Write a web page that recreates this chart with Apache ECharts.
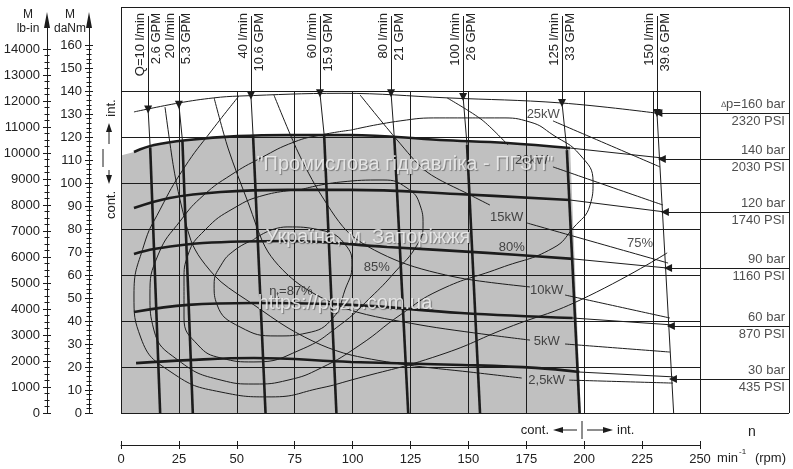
<!DOCTYPE html>
<html>
<head>
<meta charset="utf-8">
<script src="https://cdn.jsdelivr.net/npm/echarts@6/dist/echarts.min.js"></script>
<style>
html, body { margin: 0; padding: 0; background: #fff; }
#chart { width: 793px; height: 469px; }
</style>
</head>
<body>
<div id="chart"></div>
<script>
// ---- axes ----
var rpmTicks = [0, 25, 50, 75, 100, 125, 150, 175, 200, 225, 250];
var daNmTicks = [0, 10, 20, 30, 40, 50, 60, 70, 80, 90, 100, 110, 120, 130, 140, 150, 160];
var lbinTicks = [0, 1000, 2000, 3000, 4000, 5000, 6000, 7000, 8000, 9000, 10000, 11000, 12000, 13000, 14000];
var gridM = [20, 40, 60, 80, 100, 120, 140];          // daNm
var gridN = [25, 50, 75, 100, 125, 150, 175, 200, 230, 250]; // rpm

// ---- constant pressure curves [rpm, daNm] ----
var p160 = [[5.6,130.9],[25,134.8],[40,137],[51,137.8],[95,139],[141,137],[190,134.8],[231,130.4]];
var p140 = [[5.6,113.5],[14.3,116.5],[29,118.7],[50.5,120.4],[72,120.9],[99,120.9],[137.7,118.7],[166.7,117.4],[193.9,115.2]];
var p140End = [[193.9,115.2],[233.6,110.9]];
var p120 = [[5.6,89.1],[21,93.5],[43,96.1],[72,97],[99,97],[145,95.2],[193.9,92.6]];
var p120End = [[193.9,92.6],[234.9,87.4]];
var p90 = [[5.6,69.1],[14.3,71.3],[35.4,73.9],[71.7,74.8],[114.9,72.2],[158,69.6],[195.2,67]];
var p90End = [[195.2,67],[236.2,63]];
var p60 = [[5.6,43.9],[29,47],[57.4,47.8],[99.3,47],[146.8,43.5],[195,41.3]];
var p60End = [[195,41.3],[238,38.3]];
var p30 = [[6.5,21.7],[29,23],[57.4,23.9],[99.3,22.2],[147.4,20.9],[179,19.6],[198,17.8]];
var p30End = [[198,17.8],[238.5,15.7]];

// continuous-duty (grey) region
var contArea = [[0,112],[5.6,113.5],[14.3,116.5],[29,118.7],[50.5,120.4],[72,120.9],[99,120.9],[137.7,118.7],[166.7,117.4],[193.9,115.2],[198.5,0]];

// ---- constant flow lines: [top, start of thick part, bottom] ----
var flowNames = ['Q=10 l/min', '20 l/min', '40 l/min', '60 l/min', '80 l/min', '100 l/min', '125 l/min', '150 l/min'];
var flowGpm = ['2.6 GPM', '5.3 GPM', '10.6 GPM', '15.9 GPM', '21 GPM', '26 GPM', '33 GPM', '39.6 GPM'];
var flowTop = [[11.7,132],[25,134],[56.1,138],[85.9,139],[116.6,139],[147.7,137.4],[190.4,134.8],[231.4,130.4]];
var flowMid = [[12.6,115.5],[26.5,118.7],[57,121],[87.7,121],[118,119.6],[149.4,116.5],[192.5,114.3],null];
var flowBottom = [[16.9,0],[31,0],[62.4,0],[93,0],[124,0],[155,0],[198,0],[238.6,0]];

// ---- power lines (kW) ----
var kw25 = [[186.5,127],[232.7,107]];
var kw20a = [[140.8,137],[155.9,127.4],[167.1,116.5]];
var kw20b = [[186.5,107],[234,90.4]];
var kw15a = [[103.2,138.3],[119.2,118.7],[132.1,104.8],[150.7,94.8],[159.3,90.4]];
var kw15b = [[175.3,82.6],[236.2,65.2]];
var kw10a = [[66,138.3],[76.4,113.5],[86.4,94.8],[99.3,77.4],[120.5,65.7],[146.4,58.7],[176.6,54.8]];
var kw10b = [[191.7,51.3],[237,41.3]];
var kw5a = [[40.2,137],[46.2,115.2],[54.8,91.7],[63.5,70],[77.3,55.7],[98.9,44.8],[129.1,38.3],[159.3,33.9],[176.6,31.7]];
var kw5b = [[191.7,30],[237,26.5]];
var kw2a = [[19,133],[22.5,108],[25.5,92.6],[30.2,75],[34.5,67],[43.2,57],[57.4,47],[72.1,37],[86.4,29.6],[99.3,25.2],[123.5,20.9],[150.7,17.8],[173,15.2]];
var kw2b = [[193.5,14.3],[238.3,13]];

// ---- efficiency contours ----
var eff87 = [[57,75.2],[71.7,80.9],[85.9,79.6],[97.6,72.2],[99.7,64.3],[96.7,53.5],[91.5,41.3],[80.3,34.8],[67.4,33.5],[51.4,37.4],[41.5,47],[40.2,55.7],[43.2,64.3],[49.2,70.9],[57,75.2]];
var eff85 = [[77.3,97],[94.6,100.4],[113.1,101.3],[123.5,97.8],[129.1,90.4],[130.4,81.7],[127.8,73],[118.3,61.3],[107.5,50],[94.6,38.3],[77.3,27.4],[57.4,22.2],[43.2,23.9],[33.2,29.6],[27.2,41.3],[27.2,57.8],[28.9,68.7],[36.3,79.6],[48.8,89.1],[62.2,94.8],[77.3,97]];
var eff80 = [[99.3,123],[120.5,127],[137.7,128.3],[163.6,128.3],[176.6,126.5],[186.5,120.9],[198.2,112.2],[203.8,100.4],[202.5,90.4],[195.2,80.4],[186.5,71.7],[163.6,63],[137.7,53.5],[120.5,42.6],[103.2,29.6],[86.4,19.6],[72.1,14.3],[57.4,12.6],[43.2,14.3],[24.6,23],[14.2,36.1],[12.5,51.3],[16,68.7],[25.9,83.9],[35.8,94.8],[47.5,103.5],[60.4,110.9],[74.7,117.8],[86.4,120.9],[99.3,123]];
var eff75 = [[50.9,137.8],[39.3,123],[27.2,106.5],[16.8,88.3],[9.9,73],[5.6,51.3],[8.6,32.6],[21.6,17.8],[43.2,9.1],[64.8,7],[86.4,10.9],[99.3,14.3],[137.7,25.2],[166.7,37],[198.2,49.1],[235.8,69.6]];

// ---- labels inside the plot ----
var kwLabels = [['25kW',182.3,129.9],['20kW',177.3,109.6],['15kW',166.5,84.9],['10kW',183.8,53.5],['5kW',183.8,31],['2,5kW',183.8,14.3]];
var effLabels = [['85%',110.4,63.2],['80%',168.7,72],['75%',224.1,73.8]];
var eta87 = [73.4,53];

// ---- pressure arrows on the right ----
var presM = [130.4, 110.4, 87.4, 63, 37.8, 14.8];
var presTip = [232, 233.5, 234.8, 236.2, 237.4, 238.3];
var presBar = ['160 bar', '140 bar', '120 bar', '90 bar', '60 bar', '30 bar'];
var presPsi = ['2320 PSI', '2030 PSI', '1740 PSI', '1160 PSI', '870 PSI', '435 PSI'];

var FONT = '"Liberation Sans", Arial, sans-serif';
var INK = '#1c1c1c';
var TXT = '#222';
var N_MAX = 288.4, M_MAX = 176.52, ARROW_TOP = 172.6;

var chart = echarts.init(document.getElementById('chart'));

function curve(data, width, smooth) {
  return { type: 'line', xAxisIndex: 0, yAxisIndex: 0, data: data, symbol: 'none', showSymbol: false,
    smooth: smooth || false, silent: true, lineStyle: { color: INK, width: width }, z: width > 1.5 ? 4 : 3 };
}
function seg(a, b) { return [{ coord: a }, { coord: b }]; }

var minorDaNm = [], minorLbin = [];
for (var i = 0; i <= 160; i += 2) minorDaNm.push(i);
for (var j = 0; j <= 14000; j += 250) minorLbin.push(j);

var gridLines = [];
gridM.forEach(function (m) { gridLines.push(seg([0, m], [250, m])); });
gridN.forEach(function (n) { gridLines.push(seg([n, 0], [n, 140])); });
gridLines.push(seg([0, 0], [N_MAX, 0]), seg([0, M_MAX], [N_MAX, M_MAX]),
               seg([0, 0], [0, M_MAX]), seg([N_MAX, 0], [N_MAX, M_MAX]));

var arrows = [];
flowTop.forEach(function (p) { arrows.push(seg([p[0], ARROW_TOP], p)); });
presM.forEach(function (m, k) { arrows.push(seg([N_MAX, m], [presTip[k], m])); });

var series = [];
series.push({ type: 'line', xAxisIndex: 0, yAxisIndex: 0, data: contArea, symbol: 'none', silent: true,
  lineStyle: { width: 0 }, areaStyle: { color: '#c0c0c0', opacity: 1, origin: 'start' }, z: 1 });
series.push({ type: 'line', xAxisIndex: 0, yAxisIndex: 0, data: [[0, -10]], symbol: 'none', lineStyle: { width: 0 }, z: 2,
  markLine: { silent: true, symbol: 'none', label: { show: false },
    lineStyle: { color: INK, width: 1, type: 'solid' }, data: gridLines } });

[eff87, eff85, eff80, eff75].forEach(function (d) { series.push(curve(d, 1, 0.5)); });
[kw25, kw20a, kw20b, kw15a, kw15b, kw10a, kw10b, kw5a, kw5b, kw2a, kw2b].forEach(function (d) { series.push(curve(d, 1, 0.3)); });
series.push(curve(p160, 1, 0.4));
[p140End, p120End, p90End, p60End, p30End].forEach(function (d) { series.push(curve(d, 1)); });
[p140, p120, p90, p60, p30].forEach(function (d) { series.push(curve(d, 2.6, 0.4)); });
flowTop.forEach(function (t, k) {
  if (flowMid[k]) {
    series.push(curve([t, flowMid[k]], 1));
    series.push(curve([flowMid[k], flowBottom[k]], 2.6));
  } else {
    series.push(curve([t, flowBottom[k]], 1));
  }
});
series.push({ type: 'line', xAxisIndex: 0, yAxisIndex: 0, data: [[0, -10]], symbol: 'none', lineStyle: { width: 0 }, z: 5,
  markLine: { silent: true, symbol: ['none', 'triangle'], symbolSize: 8, label: { show: false },
    lineStyle: { color: INK, width: 1, type: 'solid' }, itemStyle: { color: INK }, data: arrows } });

series.push({ type: 'scatter', xAxisIndex: 0, yAxisIndex: 0, symbolSize: 1, silent: true, z: 6,
  itemStyle: { color: 'rgba(0,0,0,0)' },
  label: { show: true, position: 'inside', formatter: '{b}', color: TXT, fontSize: 13, fontFamily: FONT },
  data: kwLabels.concat(effLabels).map(function (l) { return { name: l[0], value: [l[1], l[2]] }; }) });
series.push({ type: 'scatter', xAxisIndex: 0, yAxisIndex: 0, symbolSize: 1, silent: true, z: 6,
  itemStyle: { color: 'rgba(0,0,0,0)' },
  label: { show: true, position: 'inside', formatter: '{a|η}{s|t}{a|=87%}', color: TXT,
    rich: { a: { fontSize: 13, fontFamily: FONT, color: TXT },
            s: { fontSize: 9, fontFamily: FONT, color: TXT, padding: [9, 0, 0, 0] } } },
  data: [{ value: eta87 }] });
series.push({ type: 'scatter', xAxisIndex: 0, yAxisIndex: 0, symbolSize: 1, silent: true, z: 6,
  itemStyle: { color: 'rgba(0,0,0,0)' },
  label: { show: true, position: 'inside', align: 'right', offset: [-4, 0], color: TXT, lineHeight: 17,
    formatter: function (p) {
      var k = p.dataIndex;
      return (k === 0 ? '{d|∆}{a|p=' + presBar[k] + '}' : '{a|' + presBar[k] + '}') + '\n{a|' + presPsi[k] + '}';
    },
    rich: { a: { fontSize: 13, fontFamily: FONT, color: TXT, lineHeight: 17 },
            d: { fontSize: 8, fontFamily: FONT, color: TXT, lineHeight: 17 } } },
  data: presM.map(function (m) { return [N_MAX - 0.01, m]; }) });

function tickAxis(grid, max, ticks, inside, len, labels, line) {
  return { type: 'value', gridIndex: grid, min: 0, max: max, position: 'left',
    axisLine: line ? { show: true, symbol: ['none', 'triangle'], symbolSize: [6, 16], lineStyle: { color: INK, width: 1 } } : { show: false },
    axisTick: { show: true, inside: inside, length: len, customValues: ticks, lineStyle: { color: INK } },
    axisLabel: labels ? { show: true, customValues: ticks, margin: 7, color: TXT, fontSize: 13, fontFamily: FONT,
      formatter: function (v) { return String(v); } } : { show: false },
    splitLine: { show: false } };
}

var DANM_MAX = 393 / 2.3, LBIN_MAX = DANM_MAX * 88.507;

var option = {
  animation: false,
  backgroundColor: '#fff',
  grid: [
    { left: 121, top: 7, width: 668, height: 406 },
    { left: 121, top: 440, width: 579, height: 5 },
    { left: 89, top: 20, width: 1, height: 393 },
    { left: 47, top: 20, width: 1, height: 393 }
  ],
  xAxis: [
    { type: 'value', gridIndex: 0, min: 0, max: N_MAX, show: false },
    { type: 'value', gridIndex: 1, min: 0, max: 250, interval: 25, position: 'bottom',
      axisLine: { show: true, lineStyle: { color: INK } },
      axisTick: { show: true, length: 4, customValues: rpmTicks, lineStyle: { color: INK } },
      axisLabel: { show: true, margin: 8, color: TXT, fontSize: 13, fontFamily: FONT, customValues: rpmTicks },
      splitLine: { show: false } },
    { type: 'value', gridIndex: 1, min: 0, max: 250, interval: 25, position: 'bottom',
      axisLine: { show: false }, axisTick: { show: true, inside: true, length: 4, lineStyle: { color: INK } },
      axisLabel: { show: false }, splitLine: { show: false } },
    { type: 'value', gridIndex: 2, min: 0, max: 1, show: false },
    { type: 'value', gridIndex: 3, min: 0, max: 1, show: false }
  ],
  yAxis: [
    { type: 'value', gridIndex: 0, min: 0, max: M_MAX, show: false },
    { type: 'value', gridIndex: 1, min: 0, max: 1, show: false },
    tickAxis(2, DANM_MAX, daNmTicks, false, 4, true, true),
    tickAxis(2, DANM_MAX, daNmTicks, true, 4, false, false),
    tickAxis(2, DANM_MAX, minorDaNm, false, 2.5, false, false),
    tickAxis(2, DANM_MAX, minorDaNm, true, 2.5, false, false),
    tickAxis(3, LBIN_MAX, lbinTicks, false, 4, true, true),
    tickAxis(3, LBIN_MAX, lbinTicks, true, 4, false, false),
    tickAxis(3, LBIN_MAX, minorLbin, false, 2.5, false, false),
    tickAxis(3, LBIN_MAX, minorLbin, true, 2.5, false, false)
  ],
  series: series
};
chart.setOption(option);

// ---- text and decorations ----
function txt(x, y, s, opts) {
  opts = opts || {};
  return { type: 'text', x: x, y: y, rotation: opts.rot || 0, z: 100, silent: true,
    style: Object.assign({ text: s, fill: opts.fill || TXT, font: (opts.size || 13) + 'px ' + FONT,
      align: opts.align || 'center', verticalAlign: 'middle' }, opts.style || {}) };
}
function ln(x1, y1, x2, y2) {
  return { type: 'line', z: 100, silent: true, shape: { x1: x1, y1: y1, x2: x2, y2: y2 }, style: { stroke: INK, lineWidth: 1 } };
}
function head(pts) {
  return { type: 'polygon', z: 100, silent: true, shape: { points: pts }, style: { fill: INK } };
}

var g = [];
flowTop.forEach(function (p, k) {
  var x = chart.convertToPixel({ gridIndex: 0 }, [p[0], 0])[0];
  g.push(txt(x - 8, 13, flowNames[k], { rot: Math.PI / 2, align: 'right' }));
  g.push(txt(x + 8, 13, flowGpm[k], { rot: Math.PI / 2, align: 'right' }));
});
g.push(txt(28, 15, 'M', { size: 12 }), txt(28, 29, 'lb-in', { size: 12 }));
g.push(txt(70, 15, 'M', { size: 12 }), txt(70, 29, 'daNm', { size: 12 }));
g.push(ln(103, 149, 103, 167));
g.push(ln(109, 144, 109, 131), head([[106, 132], [109, 123], [112, 132]]));
g.push(txt(111, 108, 'int.', { rot: Math.PI / 2 }));
g.push(ln(109, 170, 109, 176), head([[106, 175], [109, 184], [112, 175]]));
g.push(txt(111, 205, 'cont.', { rot: Math.PI / 2 }));
g.push(txt(549, 430, 'cont.', { align: 'right' }));
g.push(ln(577, 430, 562, 430), head([[563, 427], [553, 430], [563, 433]]));
g.push(ln(582, 421, 582, 439));
g.push(ln(587, 430, 603, 430), head([[603, 427], [613, 430], [603, 433]]));
g.push(txt(617, 430, 'int.', { align: 'left' }));
g.push(txt(752, 432, 'n', { size: 14 }));
g.push(txt(786, 458, '(rpm)', { align: 'right' }));
g.push(txt(739, 452, '-1', { size: 8, align: 'left' }));
g.push(txt(738, 458, 'min', { align: 'right' }));
var wm = { fill: 'rgba(240,240,240,0.85)', style: { textShadowColor: 'rgba(0,0,0,0.45)', textShadowOffsetX: 1, textShadowOffsetY: 1, textShadowBlur: 1 } };
g.push(txt(405, 164, '"Промислова гідравліка - ПГЗП"', Object.assign({ size: 20 }, wm)));
g.push(txt(368, 237, 'Україна, м. Запоріжжя', Object.assign({ size: 20 }, wm)));
g.push(txt(345, 303, 'https://pgzp.com.ua', Object.assign({ size: 20 }, wm)));

chart.setOption({ graphic: g });
</script>
</body>
</html>
